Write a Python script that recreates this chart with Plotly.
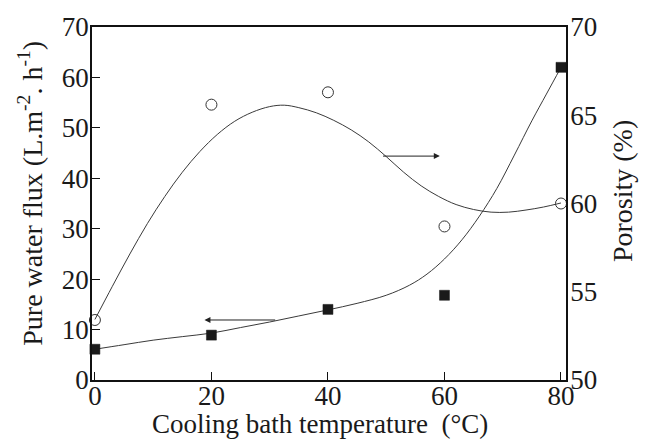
import plotly.graph_objects as go

# ---- data ----
temps = [0, 20, 40, 60, 80]                       # cooling bath temperature (°C)
flux = [6.1, 8.9, 14.0, 16.8, 62.0]               # pure water flux (L m-2 h-1)
porosity = [53.4, 65.6, 66.3, 58.7, 60.0]         # porosity (%)

# fitted guide curves
flux_curve_x = [0, 5, 10, 15, 20, 25, 30, 35, 40, 45, 50, 54, 57, 60, 63, 66, 69,
                72, 75, 77.5, 80]
flux_curve_y = [6.1, 7.0, 7.9, 8.6, 9.3, 10.4, 11.5, 12.7, 13.9, 15.2, 16.8, 18.8,
                21.0, 24.0, 27.8, 32.5, 38.0, 44.6, 51.4, 56.7, 62.0]
por_curve_x = [0, 3, 6, 9, 12, 15, 18, 21, 24, 27, 30, 32.5, 35, 38, 41, 44, 47, 50,
               53, 56, 59, 62, 65, 68, 71, 74, 77, 80]
por_curve_y = [53.43, 55.31, 57.14, 58.86, 60.40, 61.77, 62.94, 63.91, 64.66, 65.17,
               65.49, 65.57, 65.43, 65.14, 64.71, 64.17, 63.49, 62.66, 61.77, 61.0,
               60.40, 59.94, 59.66, 59.51, 59.51, 59.63, 59.80, 60.03]

# direction arrows: (tail x, head x, y in left-axis units)
por_arrow = [49.2, 59.2, 44.4]
flux_arrow = [31.2, 18.8, 11.9]

xticks = [0, 20, 40, 60, 80]
yticks_left = [0, 10, 20, 30, 40, 50, 60, 70]
yticks_right = [50, 55, 60, 65, 70]

FONT = "Liberation Serif, Times New Roman, serif"
LINE = "#3a3a3a"
TXT = "#1a1a1a"

fig = go.Figure()
fig.add_trace(go.Scatter(x=flux_curve_x, y=flux_curve_y, mode="lines",
                         line=dict(color=LINE, width=1, shape="spline", smoothing=1),
                         hoverinfo="skip", showlegend=False))
fig.add_trace(go.Scatter(x=por_curve_x, y=por_curve_y, mode="lines", yaxis="y2",
                         line=dict(color=LINE, width=1, shape="spline", smoothing=1),
                         hoverinfo="skip", showlegend=False))
fig.add_trace(go.Scatter(x=temps, y=flux, mode="markers", cliponaxis=False,
                         marker=dict(symbol="square", size=10, color="#1a1a1a",
                                     line=dict(color="#1a1a1a", width=0.5)),
                         showlegend=False))
fig.add_trace(go.Scatter(x=temps, y=porosity, mode="markers", yaxis="y2", cliponaxis=False,
                         marker=dict(symbol="circle-open", size=11, color="#333333",
                                     line=dict(width=1)),
                         showlegend=False))

for tail, head, yv in (por_arrow, flux_arrow):
    fig.add_annotation(x=head, y=yv, ax=tail, ay=yv, xref="x", yref="y",
                       axref="x", ayref="y", showarrow=True, text="",
                       arrowhead=2, arrowsize=1.2, arrowwidth=1, arrowcolor="#222222")

# axis titles
fig.add_annotation(text="Pure water flux (L.m<sup>-2</sup>. h<sup>-1</sup>)",
                   xref="paper", yref="paper", x=-0.129, y=0.53, textangle=-90,
                   showarrow=False, xanchor="center", yanchor="middle",
                   font=dict(family=FONT, size=28, color=TXT))
fig.add_annotation(text="Porosity (%)",
                   xref="paper", yref="paper", x=1.118, y=0.535, textangle=-90,
                   showarrow=False, xanchor="center", yanchor="middle",
                   font=dict(family=FONT, size=28, color=TXT))
fig.add_annotation(text="Cooling bath temperature  (°C)",
                   xref="paper", yref="paper", x=0.481, y=-0.126,
                   showarrow=False, xanchor="center", yanchor="middle",
                   font=dict(family=FONT, size=27, color=TXT))

axis_common = dict(showgrid=False, zeroline=False, linecolor="#111111", linewidth=1.5,
                   tickfont=dict(family=FONT, size=27, color=TXT))

fig.update_layout(
    width=645, height=440,
    margin=dict(l=92, r=79, t=27, b=60),
    paper_bgcolor="white", plot_bgcolor="white",
    xaxis=dict(range=[-0.5, 80.86], tickvals=xticks, ticks="inside", ticklen=8,
               tickcolor="#111111", showline=True, mirror=True,
               ticklabelstandoff=-9, **axis_common),
    yaxis=dict(range=[0, 70], tickvals=yticks_left, ticks="inside", ticklen=8,
               tickcolor="#111111", showline=True, ticklabelstandoff=-4, **axis_common),
    yaxis2=dict(range=[50, 70], tickvals=yticks_right, overlaying="y", side="right",
                ticks="", showline=True, ticklabelstandoff=-3, **axis_common),
)

fig.write_html("out.html")
